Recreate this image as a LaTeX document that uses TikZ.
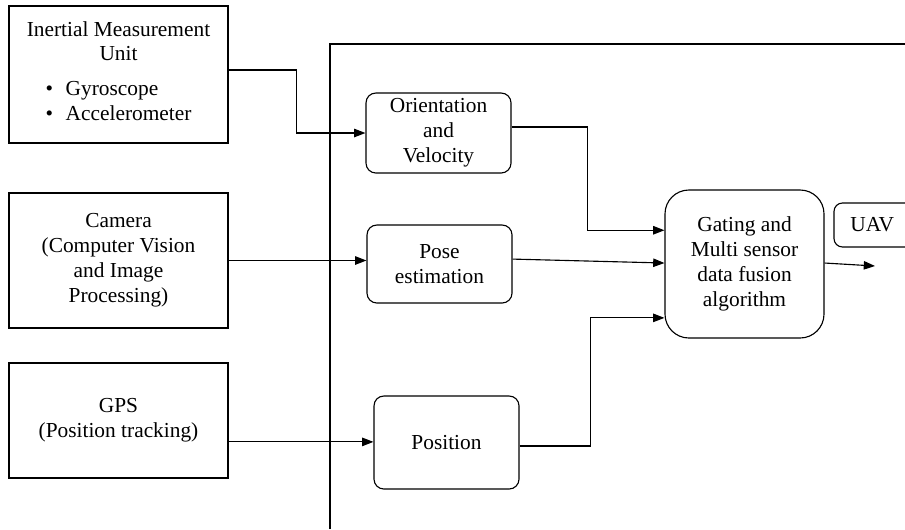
\documentclass[tikz,border=0pt]{standalone}
\usepackage{fontspec}
\setmainfont{Liberation Serif}
\usetikzlibrary{arrows.meta,positioning,calc}
\tikzset{
  box/.style={draw, line width=0.8pt, align=center, font=\fontsize{15.2}{17.7}\selectfont, inner sep=2pt},
  rbox/.style={box, rounded corners=7pt},
  sz/.style 2 args={minimum width=#1*0.025cm, minimum height=#2*0.025cm},
  arr/.style={-{Triangle[length=8pt,width=6pt]}, line width=0.8pt},
  ln/.style={line width=0.8pt}}

\begin{document}
\begin{tikzpicture}[x=0.025cm, y=-0.025cm]
  \useasboundingbox (0,0) rectangle (905,529);
  \clip (0,0) rectangle (905,529);
  % sensors
  \node[box, sz={219}{137}] (imu) at (118.5,74.5)
    {Inertial Measurement\\Unit\\[11pt]
     \begin{tabular}{@{}l@{}}\textbullet\hspace{9pt}Gyroscope\\ \textbullet\hspace{9pt}Accelerometer\end{tabular}};
  \node[box, sz={219}{135}] (cam) at (118.5,260.5)
    {Camera\\(Computer Vision\\and Image\\Processing)};
  \node[box, sz={219}{115}] (gps) at (118.5,420.5)
    {GPS\\(Position tracking)};
  % frame
  \draw[ln] (330,529) -- (330,44) -- (910,44);
  % estimates
  \node[rbox, sz={145}{80}] (orient) at (438.5,133) {Orientation\\and\\Velocity};
  \node[rbox, sz={145}{78}] (pose) at (439.5,264) {Pose\\estimation};
  \node[rbox, sz={145}{93}] (posn) at (446.5,442.5) {Position};
  \node[rbox, rounded corners=17pt, sz={159}{148}] (fusion) at (744.5,264)
    {Gating and\\Multi sensor\\data fusion\\algorithm};
  \node[rbox, rounded corners=6pt, sz={82}{44}] (uav) at (875,225) {\hspace*{-4pt}UAV};
  \coordinate (uavin) at (875,266);
  % connectors
  \draw[arr] ([yshift=3.2pt]imu.east) -- ++(68,0) |- (orient.west);
  \draw[arr] (cam.east) -- (cam.east -| pose.west);
  \draw[arr] ([yshift=-15.2pt]gps.east) -- ([yshift=-15.2pt]gps.east -| posn.west);
  \draw[arr] ([yshift=4.3pt]orient.east) -- ++(76,0) |- ([yshift=24pt]fusion.west);
  \draw[arr] ([yshift=3.5pt]pose.east) -- ([yshift=0.7pt]fusion.west);
  \draw[arr] ([yshift=-2.5pt]posn.east) -- ++(71,0) |- ([yshift=-38.3pt]fusion.west);
  \draw[arr] ([yshift=0.7pt]fusion.east) -- (uavin);
\end{tikzpicture}
\end{document}
